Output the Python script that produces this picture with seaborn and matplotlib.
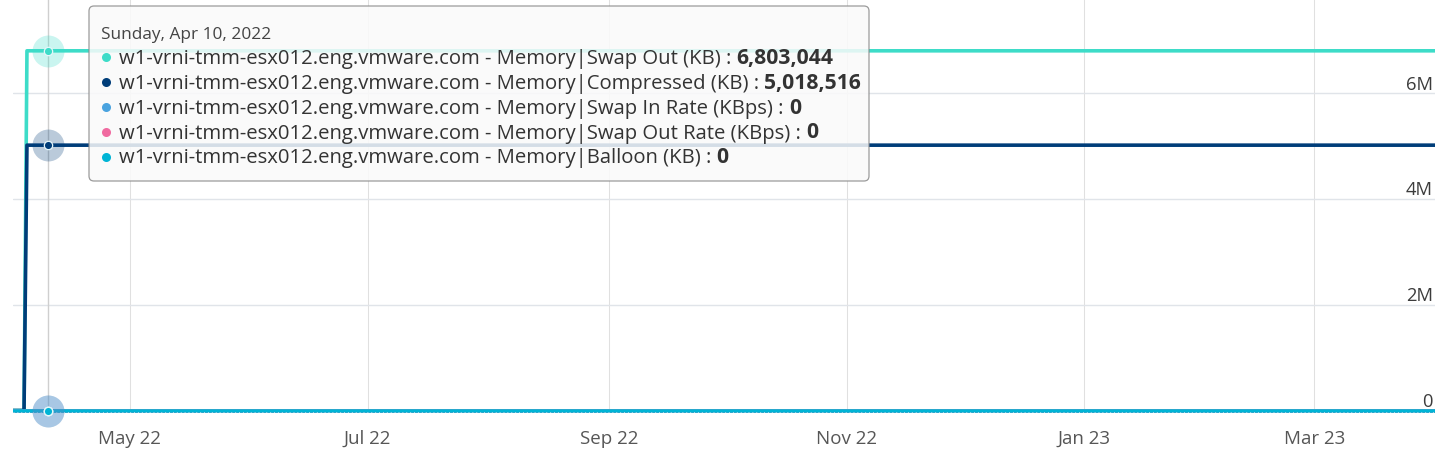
import matplotlib
matplotlib.use("Agg")
import matplotlib.pyplot as plt
import matplotlib.dates as mdates
from matplotlib.patches import FancyBboxPatch
from matplotlib.lines import Line2D
from matplotlib import transforms
import pandas as pd
import seaborn as sns

# data
host = "w1-vrni-tmm-esx012.eng.vmware.com"
metrics = ["Memory|Swap Out (KB)", "Memory|Compressed (KB)",
           "Memory|Swap In Rate (KBps)", "Memory|Swap Out Rate (KBps)",
           "Memory|Balloon (KB)"]
colors = ["#3ddcc8", "#003d79", "#4aa3df", "#f06aa0", "#00b4d5"]

dates = ["2022-04-01 00:00", "2022-04-03 20:00", "2022-04-04 14:00", "2023-04-01 00:00"]
swap_out = [0, 0, 6803044, 6803044]
compressed = [0, 0, 5018516, 5018516]
swap_in_rate = [0, 0, 0, 0]
swap_out_rate = [0, 0, 0, 0]
balloon = [0, 0, 0, 0]

hover_date = "2022-04-10"
hover_title = "Sunday, Apr 10, 2022"
hover_values = [6803044, 5018516, 0, 0, 0]

ytick_vals = [0, 2e6, 4e6, 6e6]
ytick_labels = ["0", "2M", "4M", "6M"]

series = [swap_out, compressed, swap_in_rate, swap_out_rate, balloon]
date_ts = [pd.Timestamp(d) for d in dates]
rows = []
for m, vals in zip(metrics, series):
    for d, v in zip(date_ts, vals):
        rows.append({"date": d, "value": v, "metric": m})
df = pd.DataFrame(rows)

sns.set_style("white")
plt.rcParams["font.family"] = ["Open Sans", "DejaVu Sans"]

W, H = 1450, 460
fig = plt.figure(figsize=(W / 100, H / 100), dpi=100)
ax = fig.add_axes([13 / W, 48.5 / H, 1422 / W, 411.5 / H])

sns.lineplot(data=df, x="date", y="value", hue="metric", hue_order=metrics,
             palette=colors, estimator=None, sort=False, legend=False,
             linewidth=2.6, ax=ax)
for ln in ax.get_lines():
    ln.set_clip_on(False)
    ln.set_solid_capstyle("butt")

# faint dotted texture on the zero line
off = transforms.offset_copy(ax.transData, fig, x=0, y=-1, units="dots")
ax.plot(date_ts, balloon, color="white", lw=0.7,
        ls=(0, (1, 3)), alpha=0.6, transform=off, clip_on=False)

ax.set_xlim(date_ts[0], date_ts[-1])
ax.set_ylim(0, 7.783e6)
ax.set_yticks(ytick_vals)
ax.tick_params(axis="y", left=False, right=False, labelleft=False)
ax.xaxis.set_major_locator(mdates.MonthLocator(bymonth=[1, 3, 5, 7, 9, 11]))
ax.xaxis.set_major_formatter(mdates.DateFormatter("%b %y"))
ax.tick_params(axis="x", length=12, width=0.75, color="#e0e0e0", pad=1.5,
               labelsize=13.5, labelcolor="#565656")
ax.grid(axis="x", color="#e0e0e0", lw=0.75)
ax.grid(axis="y", color="#e0e4e9", lw=1.0)
ax.set_xlabel("")
ax.set_ylabel("")
sns.despine(ax=ax, left=True, bottom=True, right=True, top=True)

for v, lab in zip(ytick_vals, ytick_labels):
    ax.annotate(lab, xy=(1, v), xycoords=("axes fraction", "data"),
                xytext=(-1.7, 3.4), textcoords="offset points",
                ha="right", va="baseline", fontsize=13.2, color="#3c3c3c")

# hover line and markers
hd = pd.Timestamp(hover_date)
ax.axvline(hd, color="#cfcfcf", lw=1.0, zorder=1)
halo_colors = ["#3ddcc8", "#003d79", "#4f8fc8", "#4f8fc8", "#4f8fc8"]
halo_alpha = [0.27, 0.27, 0.2, 0.2, 0.2]
for val, hc, a in zip(hover_values, halo_colors, halo_alpha):
    ax.plot([hd], [val], "o", ms=23, color=hc, alpha=a, mew=0,
            clip_on=False, zorder=4)
for val, c in zip(hover_values, colors):
    ax.plot([hd], [val], "o", ms=6, color=c, mec="#e6f7fa", mew=0.9,
            clip_on=False, zorder=5)

# tooltip
box = FancyBboxPatch((89, H - 182), 780, 175,
                     boxstyle="round,pad=0,rounding_size=5",
                     transform=transforms.IdentityTransform(),
                     fc="#fafafa", ec="#8a8a8a", lw=0.9, alpha=0.85,
                     zorder=10)
fig.add_artist(box)
fig.text(101 / W, 1 - 39 / H, hover_title, fontsize=12.4, color="#444444",
         va="baseline", ha="left", zorder=11)

renderer = fig.canvas.get_renderer()
for i, (m, c, val) in enumerate(zip(metrics, colors, hover_values)):
    dot_y = 58.3 + i * 24.8
    fig.add_artist(Line2D([106 / W], [1 - dot_y / H], marker="o", ms=6.5,
                          color=c, mew=0, transform=fig.transFigure,
                          zorder=11))
    t = fig.text(119 / W, 1 - (dot_y + 5.8) / H, f"{host} - {m} : ",
                 fontsize=14.6, color="#333333", va="baseline", ha="left",
                 zorder=11)
    bb = t.get_window_extent(renderer=renderer)
    fig.text(bb.x1 / W, 1 - (dot_y + 5.8) / H, f"{val:,}", fontsize=15.2,
             fontweight="bold", color="#333333", va="baseline", ha="left",
             zorder=11)

plt.savefig("out.png", dpi=100)
